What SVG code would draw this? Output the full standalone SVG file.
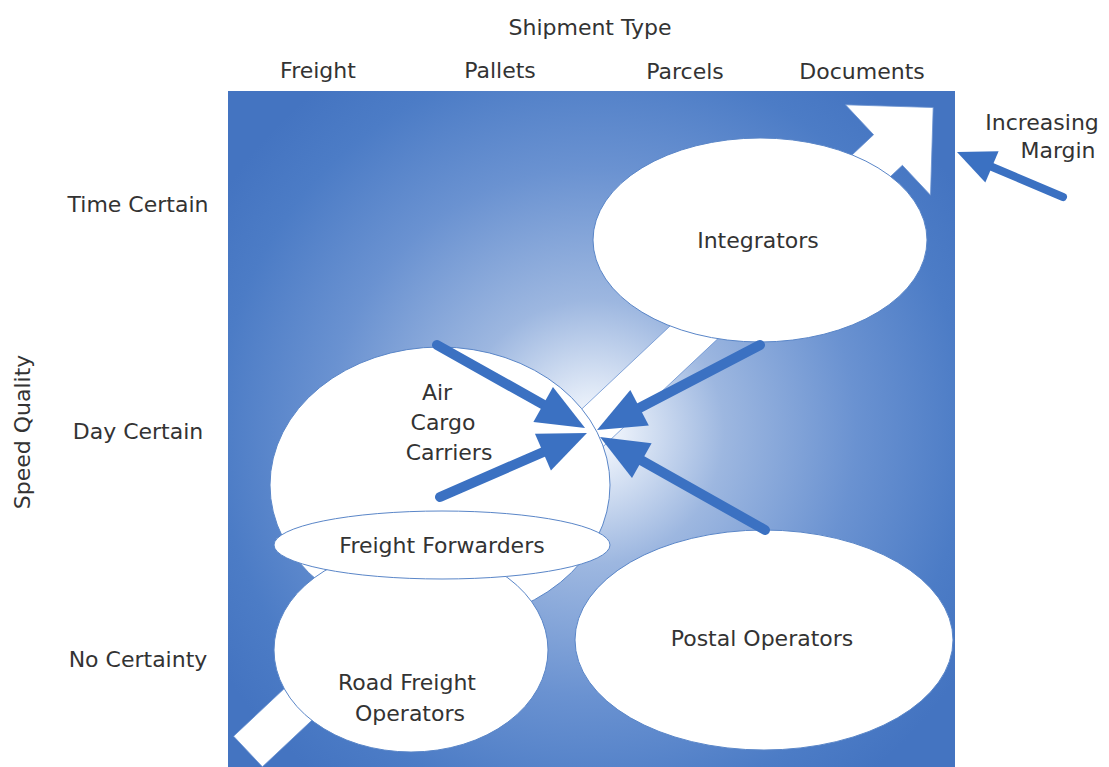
<svg xmlns="http://www.w3.org/2000/svg" width="1109" height="767" viewBox="0 0 1109 767">
  <defs>
    <radialGradient id="bg" gradientUnits="userSpaceOnUse" cx="592" cy="432" r="440">
      <stop offset="0" stop-color="#ffffff"/>
      <stop offset="0.08" stop-color="#e4ecf8"/>
      <stop offset="0.3" stop-color="#9db7e0"/>
      <stop offset="0.6" stop-color="#6a92d1"/>
      <stop offset="0.85" stop-color="#4c7cc6"/>
      <stop offset="1" stop-color="#4474c1"/>
    </radialGradient>
    <marker id="head" markerUnits="userSpaceOnUse" markerWidth="60" markerHeight="50" viewBox="0 -25 50 50" refX="3" refY="0" orient="auto">
      <path d="M0,-20 L48,0 L0,20 Z" fill="#3b71c2"/>
    </marker>
    <marker id="headSmall" markerUnits="userSpaceOnUse" markerWidth="45" markerHeight="40" viewBox="0 -20 40 40" refX="3" refY="0" orient="auto">
      <path d="M0,-17 L38,0 L0,17 Z" fill="#3b71c2"/>
    </marker>
  </defs>
  <style>
    text { font-family: "DejaVu Sans", "Liberation Sans", sans-serif; font-size: 22px; fill: #333333; text-anchor: middle; }
    .node ellipse { fill: #ffffff; stroke: #5a86c8; stroke-width: 1; }
    .conn { stroke: #3b71c2; stroke-width: 10; fill: none; stroke-linecap: round; }
    .conn-small { stroke: #3b71c2; stroke-width: 8; fill: none; stroke-linecap: round; }
  </style>

  <rect x="0" y="0" width="1109" height="767" fill="#ffffff"/>

  <!-- axis labels -->
  <g id="axis-labels">
    <text x="590" y="35">Shipment Type</text>
    <text x="318" y="78">Freight</text>
    <text x="500" y="78">Pallets</text>
    <text x="685" y="79">Parcels</text>
    <text x="862" y="79">Documents</text>
    <text x="138" y="212">Time Certain</text>
    <text x="138" y="439">Day Certain</text>
    <text x="138" y="667">No Certainty</text>
    <text transform="translate(30,432) rotate(-90)" x="0" y="0">Speed Quality</text>
    <text x="1042" y="130">Increasing</text>
    <text x="1058" y="158">Margin</text>
  </g>

  <!-- matrix background -->
  <rect id="matrix" x="228" y="91" width="727" height="690" fill="url(#bg)"/>

  <!-- increasing margin big arrow -->
  <g id="margin-arrow">
    <polygon points="233.6,736.2 873.6,134.7 845.5,104.8 933.2,107.5 930.5,195.2 902.4,165.3 262.4,766.8" fill="#ffffff" stroke="#6a92d1" stroke-width="0.8"/>
  </g>

  <g id="node-integrators" class="node">
    <ellipse cx="760" cy="240" rx="167" ry="102"/>
    <text x="758" y="248">Integrators</text>
  </g>

  <g id="node-air-cargo" class="node">
    <ellipse cx="440" cy="485" rx="170" ry="138"/>
    <text x="437" y="400">Air</text>
    <text x="443" y="430">Cargo</text>
    <text x="449" y="460">Carriers</text>
  </g>

  <g id="node-road-freight" class="node">
    <ellipse cx="411" cy="650" rx="137" ry="102"/>
    <text x="407" y="690">Road Freight</text>
    <text x="410" y="721">Operators</text>
  </g>

  <g id="node-freight-forwarders" class="node">
    <ellipse cx="442" cy="545" rx="168" ry="34"/>
    <text x="442" y="553">Freight Forwarders</text>
  </g>

  <g id="node-postal" class="node">
    <ellipse cx="764" cy="640" rx="189" ry="110"/>
    <text x="762" y="646">Postal Operators</text>
  </g>

  <g id="connectors">
    <line class="conn" x1="437" y1="345" x2="545.8" y2="406" marker-end="url(#head)"/>
    <line class="conn" x1="760" y1="345" x2="636.9" y2="409.2" marker-end="url(#head)"/>
    <line class="conn" x1="440" y1="497" x2="545.7" y2="451" marker-end="url(#head)"/>
    <line class="conn" x1="765" y1="530" x2="639.2" y2="459.1" marker-end="url(#head)"/>
    <line class="conn-small" x1="1063" y1="197" x2="989.2" y2="165.7" marker-end="url(#headSmall)"/>
  </g>
</svg>
